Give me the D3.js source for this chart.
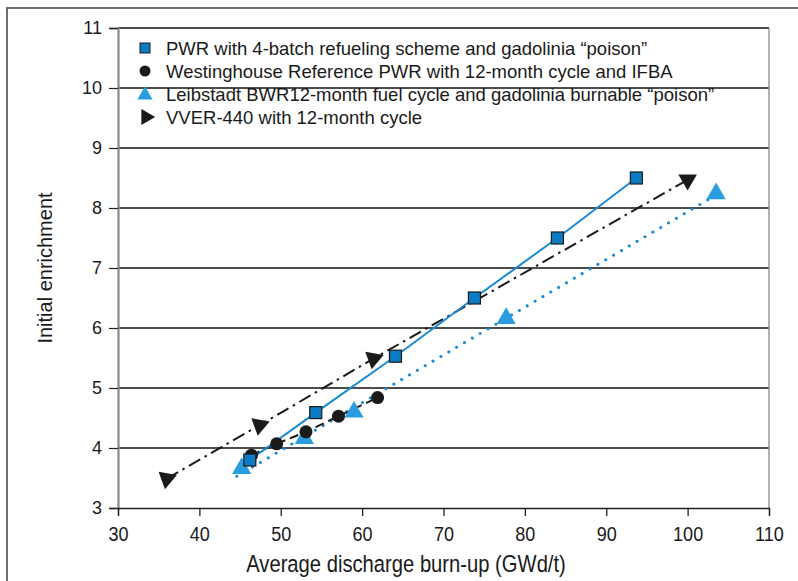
<!DOCTYPE html>
<html><head><meta charset="utf-8">
<script src="https://cdn.jsdelivr.net/npm/d3@7"></script>
<style>body{margin:0;background:#fff}svg{display:block}text{font-family:"Liberation Sans",Arial,sans-serif;fill:#1a1a1a}</style>
</head><body>
<svg id="c" width="798" height="581"></svg>
<script>
// ---- data ----
const seriesNames = [
  "PWR with 4-batch refueling scheme and gadolinia \u201cpoison\u201d",
  "Westinghouse Reference PWR with 12-month cycle and IFBA",
  "Leibstadt BWR12-month fuel cycle and gadolinia burnable \u201cpoison\u201d",
  "VVER-440 with 12-month cycle"
];
const pwrBurnup = [46.2, 54.3, 64.1, 73.8, 84.0, 93.7];
const pwrEnrich = [3.80, 4.59, 5.53, 6.50, 7.50, 8.50];
const westBurnup = [46.4, 49.5, 53.1, 57.1, 61.9];
const westEnrich = [3.88, 4.07, 4.27, 4.53, 4.84];
const leibBurnup = [45.2, 52.9, 59.0, 77.7, 103.5];
const leibEnrich = [3.66, 4.16, 4.60, 6.16, 8.24];
const vverBurnup = [36.0, 47.4, 61.4, 100.0];
const vverEnrich = [3.49, 4.38, 5.49, 8.47];
const xTickValues = [30, 40, 50, 60, 70, 80, 90, 100, 110];
const yTickValues = [3, 4, 5, 6, 7, 8, 9, 10, 11];
const xTitle = "Average discharge burn-up (GWd/t)";
const yTitle = "Initial enrichment";
const leibTrendStart = 44.6;

// ---- drawing ----
const svg = d3.select("#c");
const L = 118, R = 769, T = 28, B = 508;
const x = d3.scaleLinear().domain([30, 110]).range([L, R]);
const y = d3.scaleLinear().domain([3, 11]).range([B, T]);

// outer frame
svg.append("rect").attr("x", 7).attr("y", 8).attr("width", 820).attr("height", 620)
  .attr("fill", "none").attr("stroke", "#4a4a4a").attr("stroke-width", 1.6);

// gridlines
svg.append("g").selectAll("line").data(yTickValues.slice(1)).join("line")
  .attr("x1", L).attr("x2", R).attr("y1", d => y(d)).attr("y2", d => y(d))
  .attr("stroke", "#111").attr("stroke-width", 1.3);
svg.append("line").attr("x1", R).attr("x2", R).attr("y1", T).attr("y2", B)
  .attr("stroke", "#8a8a8a").attr("stroke-width", 1.3);

// axes
const yAxis = svg.append("g").attr("transform", `translate(${L},0)`)
  .call(d3.axisLeft(y).tickValues(yTickValues).tickSize(9).tickPadding(7).tickFormat(d3.format("d")));
yAxis.select(".domain").attr("stroke", "#8a8a8a").attr("stroke-width", 2.2);
yAxis.selectAll(".tick line").attr("stroke", "#222").attr("stroke-width", 1.2);
yAxis.selectAll(".tick text").attr("font-size", 18).attr("fill", "#1a1a1a")
  .style("font-family", '"Liberation Sans", Arial, sans-serif');

const xAxis = svg.append("g").attr("transform", `translate(0,${B})`)
  .call(d3.axisBottom(x).tickValues(xTickValues).tickSize(8).tickPadding(0).tickFormat(d3.format("d")));
xAxis.select(".domain").attr("stroke", "#222").attr("stroke-width", 1.3);
xAxis.selectAll(".tick line").attr("stroke", "#222").attr("stroke-width", 1.3);
xAxis.selectAll(".tick text").attr("font-size", 21).attr("fill", "#1a1a1a")
  .style("font-family", '"Liberation Sans", Arial, sans-serif')
  .attr("y", 18).attr("dy", "0.71em")
  .attr("transform", "scale(0.86,1)");

// axis titles
svg.append("text").attr("transform", `translate(406,572) scale(0.86,1)`)
  .attr("text-anchor", "middle").attr("font-size", 23.5).text(xTitle);
svg.append("text").attr("transform", `translate(52,${(T + B) / 2}) rotate(-90)`)
  .attr("text-anchor", "middle").attr("font-size", 20).text(yTitle);

const zip = (a, b) => a.map((v, i) => [v, b[i]]);
const line = d3.line().x(d => x(d[0])).y(d => y(d[1]));

const pwr = zip(pwrBurnup, pwrEnrich);
const west = zip(westBurnup, westEnrich);
const leib = zip(leibBurnup, leibEnrich);
const vver = zip(vverBurnup, vverEnrich);

// linear trendline for the Leibstadt series
const mx = d3.mean(leibBurnup), my = d3.mean(leibEnrich);
const slope = d3.sum(leib, d => (d[0] - mx) * (d[1] - my)) / d3.sum(leib, d => (d[0] - mx) ** 2);
const fit = v => my + slope * (v - mx);
const leibTrend = [leibTrendStart, d3.max(leibBurnup)].map(v => [v, fit(v)]);

const blue = "#0b7cc4", lblue = "#2a9de0";

// lines
svg.append("path").attr("d", line(vver)).attr("fill", "none").attr("stroke", "#1a1a1a")
  .attr("stroke-width", 2).attr("stroke-dasharray", "13 5 2.5 5");
svg.append("path").attr("d", line(leibTrend)).attr("fill", "none").attr("stroke", "#1a8ad2")
  .attr("stroke-width", 3).attr("stroke-linecap", "round").attr("stroke-dasharray", "0.1 9");
svg.append("path").attr("d", line(west)).attr("fill", "none").attr("stroke", "#1a1a1a")
  .attr("stroke-width", 2).attr("stroke-dasharray", "9 5");
svg.append("path").attr("d", line(pwr)).attr("fill", "none").attr("stroke", "#1a8ad2")
  .attr("stroke-width", 2);

// markers
const sym = (type, size) => d3.symbol().type(type).size(size)();
svg.append("g").selectAll("path").data(vver).join("path")
  .attr("d", sym(d3.symbolTriangle, 150))
  .attr("transform", (d, i) => `translate(${x(d[0])},${y(d[1])}) rotate(${i === vver.length - 1 ? 60 : 190})`)
  .attr("fill", "#1a1a1a");
svg.append("g").selectAll("path").data(leib).join("path")
  .attr("d", sym(d3.symbolTriangle, 160))
  .attr("transform", (d, i) => `translate(${x(d[0])},${y(d[1])}) rotate(${i === 0 ? 240 : 0})`)
  .attr("fill", lblue);
svg.append("g").selectAll("circle").data(west).join("circle")
  .attr("cx", d => x(d[0])).attr("cy", d => y(d[1])).attr("r", 6.5).attr("fill", "#1a1a1a");
svg.append("g").selectAll("rect").data(pwr).join("rect")
  .attr("x", d => x(d[0]) - 6).attr("y", d => y(d[1]) - 6).attr("width", 12).attr("height", 12)
  .attr("fill", blue).attr("stroke", "#1a1a1a").attr("stroke-width", 1.2);

// legend
const lg = svg.append("g");
const ly = [48, 71, 94, 117];
lg.append("rect").attr("x", 140).attr("y", ly[0] - 5).attr("width", 10).attr("height", 10)
  .attr("fill", blue).attr("stroke", "#1a1a1a").attr("stroke-width", 1);
lg.append("circle").attr("cx", 145).attr("cy", ly[1]).attr("r", 5.5).attr("fill", "#1a1a1a");
lg.append("path").attr("d", sym(d3.symbolTriangle, 100)).attr("transform", `translate(145,${ly[2] + 1})`).attr("fill", lblue);
lg.append("path").attr("d", sym(d3.symbolTriangle, 110)).attr("transform", `translate(146,${ly[3]}) rotate(90)`).attr("fill", "#1a1a1a");
lg.selectAll("text").data(seriesNames).join("text")
  .attr("x", 166).attr("y", (d, i) => ly[i]).attr("dy", "0.36em")
  .attr("font-size", 18.5).text(d => d);
</script>
</body></html>
